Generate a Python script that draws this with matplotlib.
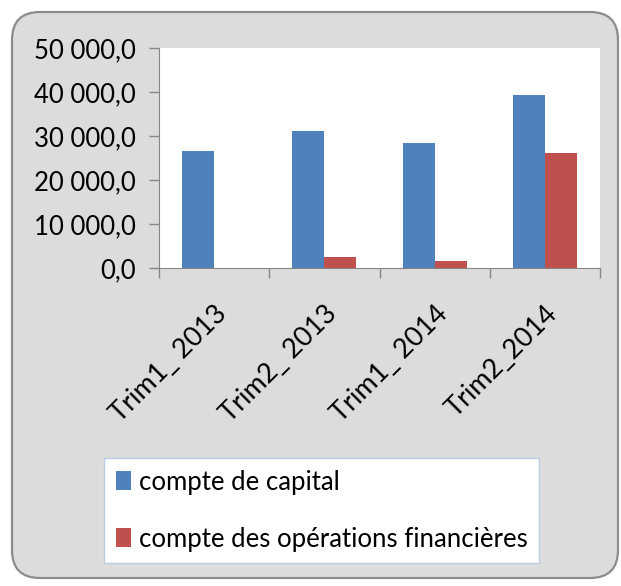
import matplotlib
matplotlib.use("Agg")
import matplotlib.pyplot as plt
from matplotlib.patches import FancyBboxPatch, Patch
from matplotlib.ticker import FuncFormatter, FixedLocator
import matplotlib.transforms as mtransforms
import numpy as np

plt.rcParams['font.family'] = ['Lato', 'DejaVu Sans']

trimestres = ["Trim1_ 2013", "Trim2_ 2013", "Trim1_ 2014", "Trim2_2014"]
capital = [26500, 31200, 28300, 39400]
operations_fin = [0, 2400, 1600, 26200]
series_names = ["compte de capital", "compte des opérations financières"]

blue = "#4F81BD"
red = "#C0504D"
gray_bg = "#DCDCDC"

fig = plt.figure(figsize=(6.21, 5.86), dpi=100)
fig.patch.set_facecolor("white")

# rounded frame behind everything (inches)
frame = FancyBboxPatch((0.12, 0.08), 6.06, 5.66,
                       boxstyle="round,pad=0,rounding_size=0.28",
                       transform=fig.dpi_scale_trans,
                       facecolor=gray_bg, edgecolor="#8C8C8C", linewidth=1.6,
                       zorder=-5)
fig.patches.append(frame)

ax = fig.add_axes([159/621, 1-268/586, (600-159)/621, (268-48)/586])
ax.set_zorder(1)
ax.set_facecolor("white")

x = np.arange(len(trimestres))
w = 0.29
ax.bar(x - w/2, capital, w, color=blue, label=series_names[0], zorder=2)
ax.bar(x + w/2, operations_fin, w, color=red, label=series_names[1], zorder=2)

ax.set_xlim(-0.5, len(trimestres) - 0.5)
ax.set_ylim(0, 50000)
ax.set_yticks(np.arange(0, 50001, 10000))
ax.yaxis.set_major_formatter(FuncFormatter(
    lambda v, p: f"{v:,.1f}".replace(",", " ").replace(".", ",")))

ax.set_xticks(x)
ax.set_xticklabels(trimestres, rotation=45, ha="right", rotation_mode="anchor",
                   fontsize=19.5)
shift = mtransforms.ScaledTranslation(-7/100, 0, fig.dpi_scale_trans)
for lab in ax.get_xticklabels():
    lab.set_transform(lab.get_transform() + shift)
ax.xaxis.set_minor_locator(FixedLocator(np.arange(-0.5, len(trimestres), 1)))
ax.tick_params(axis="x", which="major", length=0, pad=24)
ax.tick_params(axis="x", which="minor", length=7, color="#868686", width=1)
ax.tick_params(axis="y", length=7, color="#868686", width=1, labelsize=18.5, pad=10)

for s in ["top", "right"]:
    ax.spines[s].set_visible(False)
ax.spines["left"].set_color("#868686")
ax.spines["bottom"].set_color("#868686")

handles = [Patch(facecolor=blue), Patch(facecolor=red)]
leg = fig.legend(handles, series_names, loc="upper left",
                 bbox_to_anchor=(104/621, 1-458/586), borderaxespad=0,
                 fontsize=18.5, frameon=True, fancybox=False, framealpha=1,
                 facecolor="white",
                 handlelength=0.6, handleheight=0.75, handletextpad=0.3,
                 labelspacing=1.25, borderpad=0.45)
leg.get_frame().set_edgecolor("#B9CDE5")
leg.get_frame().set_linewidth(1)
leg.set_zorder(2)

fig.savefig("out.png", dpi=100, facecolor=fig.get_facecolor())
